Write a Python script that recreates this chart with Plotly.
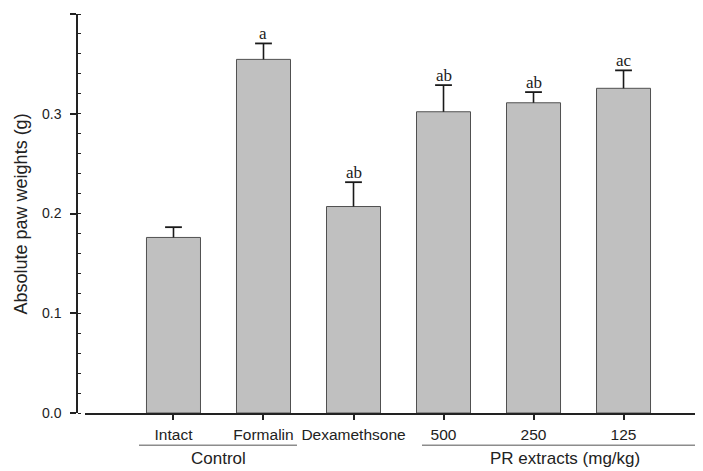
import plotly.graph_objects as go

categories = ["Intact", "Formalin", "Dexamethsone", "500", "250", "125"]
means = [0.176, 0.3545, 0.207, 0.302, 0.311, 0.3255]
sem = [0.0103, 0.016, 0.0244, 0.0267, 0.0107, 0.018]
letters = ["", "a", "ab", "ab", "ab", "ac"]
y_ticks = [0.0, 0.1, 0.2, 0.3, 0.4]
y_title = "Absolute paw weights (g)"
group_names = ["Control", "PR extracts (mg/kg)"]

SANS = "Liberation Sans, Arial, sans-serif"
SERIF = "Liberation Serif, Times New Roman, serif"
INK = "#1a1a1a"

tops = [m + e for m, e in zip(means, sem)]

fig = go.Figure()
fig.add_trace(go.Bar(
    x=categories, y=means, width=0.6,
    marker=dict(color="#c0c0c0", line=dict(color="#505050", width=1)),
    error_y=dict(type="data", array=sem, arrayminus=[0] * len(sem), symmetric=False,
                 color=INK, thickness=1.6, width=0),
    showlegend=False, hoverinfo="skip",
))
# error bar caps (upper only)
fig.add_trace(go.Scatter(
    x=categories, y=tops, mode="markers",
    marker=dict(symbol="line-ew", size=12, line=dict(color=INK, width=1.8)),
    showlegend=False, hoverinfo="skip",
))

# significance letters
for i, (top, t) in enumerate(zip(tops, letters)):
    if t:
        fig.add_annotation(x=i, y=top, text=t, showarrow=False, xref="x", yref="y",
                           yanchor="middle", yshift=10,
                           font=dict(family=SERIF, size=17, color="#222"))

# group lines and labels
line_y = -0.0807
label_y = -0.113
fig.add_shape(type="line", xref="x", yref="paper", x0=-0.383, x1=1.372, y0=line_y, y1=line_y,
              line=dict(color="#8c8c8c", width=1.5))
fig.add_shape(type="line", xref="x", yref="paper", x0=2.761, x1=5.9, y0=line_y, y1=line_y,
              line=dict(color="#8c8c8c", width=1.5))
fig.add_annotation(x=0.5, y=label_y, xref="x", yref="paper", text=group_names[0], showarrow=False,
                   yanchor="middle", font=dict(family=SANS, size=17, color="#222"))
fig.add_annotation(x=4.35, y=label_y, xref="x", yref="paper", text=group_names[1], showarrow=False,
                   yanchor="middle", font=dict(family=SANS, size=17, color="#222"))

# y title
fig.add_annotation(x=-0.0895, y=0.5, xref="paper", yref="paper", text=y_title, showarrow=False,
                   textangle=-90, xanchor="center", yanchor="middle",
                   font=dict(family=SANS, size=18, color="#222"))

# page body has an 8px margin: shrink the figure and margins to compensate
fig.update_layout(
    width=695, height=463,
    margin=dict(l=69, r=0, t=6, b=58),
    paper_bgcolor="white", plot_bgcolor="white",
    xaxis=dict(
        type="category", categoryorder="array", categoryarray=categories,
        domain=[0.0128, 1], range=[-0.983, 5.883],
        showline=True, linecolor="#222", linewidth=1.5,
        ticks="outside", ticklen=5, tickwidth=1.5, tickcolor="#222",
        tickfont=dict(family=SANS, size=15.5, color="#222"),
        ticklabelstandoff=2,
        showgrid=False, zeroline=False,
    ),
    yaxis=dict(
        range=[0, 0.4], anchor="free", position=0,
        tickvals=y_ticks, ticktext=[f"{v:.1f}" for v in y_ticks],
        showline=True, linecolor="#222", linewidth=1.5,
        ticks="outside", ticklen=6, tickwidth=1.5, tickcolor="#222",
        tickfont=dict(family=SANS, size=14, color="#222"),
        ticklabelstandoff=6,
        minor=dict(dtick=0.02, ticks="inside", ticklen=3, tickwidth=1.2, tickcolor="#222", showgrid=False),
        showgrid=False, zeroline=False,
    ),
)

fig.write_html("out.html")
